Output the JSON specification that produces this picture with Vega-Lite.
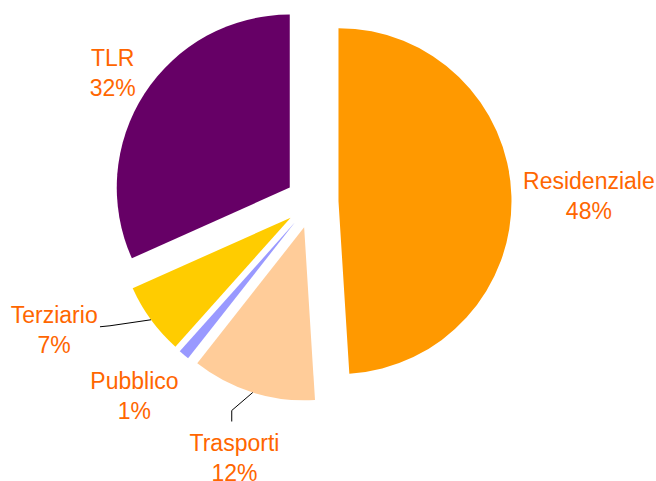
{
  "$schema": "https://vega.github.io/schema/vega-lite/v6.json",
  "width": 624,
  "height": 404,
  "autosize": "none",
  "padding": {"left": 0, "top": 0, "right": 32, "bottom": 77},
  "background": "white",
  "data": {
    "values": [
      {"name": "Residenziale", "value": 0.490, "pct": "48%"},
      {"name": "Trasporti", "value": 0.116, "pct": "12%"},
      {"name": "Pubblico", "value": 0.010, "pct": "1%"},
      {"name": "Terziario", "value": 0.067, "pct": "7%"},
      {"name": "TLR", "value": 0.317, "pct": "32%"}
    ]
  },
  "transform": [{"window": [{"op": "row_number", "as": "i"}]}],
  "layer": [
    {
      "mark": {
        "type": "arc",
        "radius": 173,
        "xOffset": {"expr": "26.5*sin(PI*(datum.value_start+datum.value_end))"},
        "yOffset": {"expr": "-26.5*cos(PI*(datum.value_start+datum.value_end))"}
      },
      "encoding": {
        "theta": {"field": "value", "type": "quantitative", "stack": true, "scale": {"domain": [0, 1]}},
        "order": {"field": "i", "type": "quantitative"},
        "color": {
          "field": "name",
          "type": "nominal",
          "legend": null,
          "scale": {
            "domain": ["Residenziale", "Trasporti", "Pubblico", "Terziario", "TLR"],
            "range": ["#FF9900", "#FFCC99", "#9999FF", "#FFCC00", "#660066"]
          }
        }
      }
    },
    {
      "transform": [
        {"stack": "value", "groupby": [], "sort": [{"field": "i", "order": "ascending"}], "as": ["s0", "s1"]},
        {"filter": "datum.name=='Terziario' || datum.name=='Trasporti'"}
      ],
      "mark": {"type": "rule", "color": "#000000", "strokeWidth": 1},
      "encoding": {
        "x": {"value": {"expr": "width/2 + 199.5*sin(PI*(datum.s0+datum.s1))"}},
        "y": {"value": {"expr": "height/2 - 199.5*cos(PI*(datum.s0+datum.s1))"}},
        "x2": {"value": {"expr": "width/2 + 199.5*sin(PI*(datum.s0+datum.s1)) + (datum.name=='Terziario'?-41:-21)"}},
        "y2": {"value": {"expr": "height/2 - 199.5*cos(PI*(datum.s0+datum.s1)) + (datum.name=='Terziario'?6:18)"}}
      }
    },
    {
      "transform": [
        {"stack": "value", "groupby": [], "sort": [{"field": "i", "order": "ascending"}], "as": ["s0", "s1"]},
        {"filter": "datum.name=='Terziario' || datum.name=='Trasporti'"}
      ],
      "mark": {"type": "rule", "color": "#000000", "strokeWidth": 1},
      "encoding": {
        "x": {"value": {"expr": "width/2 + 199.5*sin(PI*(datum.s0+datum.s1)) + (datum.name=='Terziario'?-41:-21)"}},
        "y": {"value": {"expr": "height/2 - 199.5*cos(PI*(datum.s0+datum.s1)) + (datum.name=='Terziario'?6:18)"}},
        "x2": {"value": {"expr": "width/2 + 199.5*sin(PI*(datum.s0+datum.s1)) + (datum.name=='Terziario'?-51:-21)"}},
        "y2": {"value": {"expr": "height/2 - 199.5*cos(PI*(datum.s0+datum.s1)) + (datum.name=='Terziario'?7:29)"}}
      }
    },
    {
      "mark": {
        "type": "text",
        "radius": 250,
        "font": "Liberation Sans",
        "fontSize": 23,
        "lineHeight": 30,
        "align": "center",
        "baseline": "middle",
        "text": {"expr": "[datum.name, datum.pct]"},
        "dx": {"expr": "datum.name=='Residenziale'?27:datum.name=='TLR'?10.5:datum.name=='Terziario'?-56:datum.name=='Pubblico'?-17:-3.3"},
        "dy": {"expr": "datum.name=='Residenziale'?-12:datum.name=='TLR'?-7.3:datum.name=='Terziario'?-33.5:datum.name=='Pubblico'?-11.8:3.5"}
      },
      "encoding": {
        "theta": {"field": "value", "type": "quantitative", "stack": true, "scale": {"domain": [0, 1]}},
        "order": {"field": "i", "type": "quantitative"},
        "detail": {"field": "name", "type": "nominal"},
        "color": {"value": "#FF6600"}
      }
    }
  ],
  "config": {"view": {"stroke": null}}
}
